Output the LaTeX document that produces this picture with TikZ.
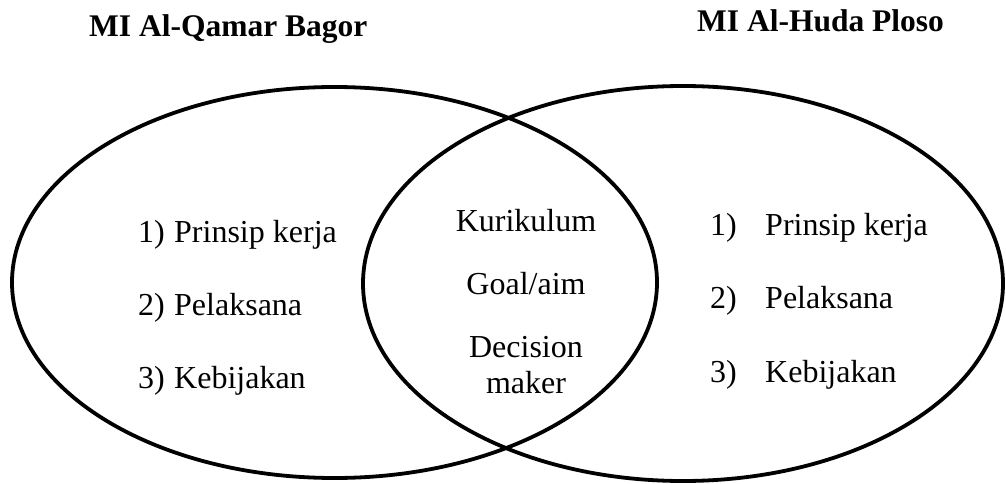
\documentclass[tikz,border=0pt]{standalone}
\usepackage{fontspec}
\setmainfont{Liberation Serif}
\begin{document}
\begin{tikzpicture}[x=1pt,y=-1pt,
  setring/.style={line width=3.8pt},
  txt/.style={inner sep=0pt,anchor=base west,font=\fontsize{32}{38}\selectfont},
  ctxt/.style={inner sep=0pt,anchor=base,font=\fontsize{32}{38}\selectfont},
  ttl/.style={inner sep=0pt,anchor=base west,font=\fontsize{31.5}{37}\selectfont\bfseries}]
\useasboundingbox (0,0) rectangle (1006,484);
% sets
\draw[setring] (334.5,282.5) ellipse [x radius=322.5pt, y radius=195.5pt];
\draw[setring] (683,283.5) ellipse [x radius=320pt, y radius=197.5pt];
% titles
\node[ttl] (tl) at (89,37) {MI Al-Qamar Bagor};
\node[ttl] (tr) at (697,32) {MI Al-Huda Ploso};
% left items
\node[txt] (ln1) at (138,242) {1)};
\node[txt] (lt1) at (174,242) {Prinsip kerja};
\node[txt] (ln2) at (138,315) {2)};
\node[txt] (lt2) at (174,315) {Pelaksana};
\node[txt] (ln3) at (138,388) {3)};
\node[txt] (lt3) at (174,388) {Kebijakan};
% middle items
\node[ctxt] (m1) at (526,231) {Kurikulum};
\node[ctxt] (m2) at (526,294) {Goal/aim};
\node[ctxt] (m3) at (526,357) {Decision};
\node[ctxt] (m4) at (526,393) {maker};
% right items
\node[txt] (rn1) at (710,235) {1)};
\node[txt] (rt1) at (765,235) {Prinsip kerja};
\node[txt] (rn2) at (710,308) {2)};
\node[txt] (rt2) at (765,308) {Pelaksana};
\node[txt] (rn3) at (710,382) {3)};
\node[txt] (rt3) at (765,382) {Kebijakan};
\end{tikzpicture}
\end{document}
